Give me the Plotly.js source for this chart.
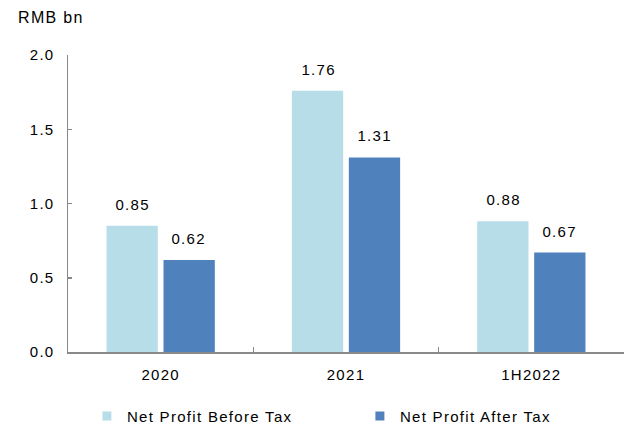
<!DOCTYPE html>
<html>
<head>
<meta charset="utf-8">
<script src="https://cdn.plot.ly/plotly-3.0.1.min.js"></script>
<style>
  html, body { margin: 0; padding: 0; background: #fff; }
  #chart { width: 625px; height: 427px; }
  #chart svg text { letter-spacing: 1.3px; }
</style>
</head>
<body>
<div id="chart"></div>
<script>
// Profit figures, RMB billions
const periods = ['2020', '2021', '1H2022'];
const beforeTax = [0.85, 1.76, 0.88];
const afterTax = [0.62, 1.31, 0.67];
const seriesNames = ['Net Profit Before Tax', 'Net Profit After Tax'];
const yTicks = [0, 0.5, 1.0, 1.5, 2.0];

const lightBlue = '#B7DEE8';
const darkBlue = '#4F81BD';
const axisGray = '#898989';
const font = 'Liberation Sans, Arial, sans-serif';

const bars = [
  { type: 'bar', name: seriesNames[0], x: periods, y: beforeTax,
    marker: { color: lightBlue }, showlegend: false },
  { type: 'bar', name: seriesNames[1], x: periods, y: afterTax,
    marker: { color: darkBlue }, showlegend: false }
];

// Legend entries drawn as small square markers (kept below the visible range)
const legendEntries = seriesNames.map((n, i) => ({
  type: 'scatter', mode: 'markers', name: n, x: [periods[0]], y: [-10],
  marker: { symbol: 'square', size: 9, color: i === 0 ? lightBlue : darkBlue },
  hoverinfo: 'skip'
}));

// Value labels above each bar; x given as category index so
// numeric-looking period names are not read as coordinates
const labelShift = 28;
const valueLabels = [];
[beforeTax, afterTax].forEach((vals, s) => {
  vals.forEach((v, i) => {
    valueLabels.push({
      x: i, y: v, xref: 'x', yref: 'y',
      text: v.toFixed(2), showarrow: false,
      xanchor: 'center', yanchor: 'bottom',
      xshift: s === 0 ? -labelShift : labelShift, yshift: 11,
      font: { family: font, size: 15, color: '#000' }
    });
  });
});

const layout = {
  width: 625, height: 427,
  margin: { l: 68, r: 1, t: 55, b: 75, autoexpand: false },
  paper_bgcolor: '#fff', plot_bgcolor: '#fff',
  barmode: 'group', bargap: 0.385, bargroupgap: 0.1,
  font: { family: font, size: 15, color: '#000' },
  showlegend: true,
  legend: {
    orientation: 'h', x: 0.034, xanchor: 'left', y: -0.161, yanchor: 'top',
    entrywidth: 228, entrywidthmode: 'pixels', itemwidth: 30,
    font: { family: font, size: 15, color: '#000' }
  },
  xaxis: {
    type: 'category', categoryarray: periods, categoryorder: 'array',
    showline: true, linecolor: axisGray, linewidth: 1.5,
    ticks: 'inside', tickson: 'boundaries', ticklen: 5, tickcolor: axisGray,
    tickwidth: 1.5, showgrid: false, ticklabelstandoff: 8,
    tickfont: { family: font, size: 15, color: '#000' }
  },
  yaxis: {
    range: [0, 2], tickvals: yTicks, tickformat: '.1f',
    showline: true, linecolor: axisGray, linewidth: 1.5,
    ticks: 'inside', ticklen: 4, tickcolor: axisGray, tickwidth: 1.5,
    showgrid: false, zeroline: false, ticklabelstandoff: 9,
    tickfont: { family: font, size: 15, color: '#000' }
  },
  annotations: valueLabels.concat([{
    xref: 'paper', yref: 'paper', x: -0.087, y: 1.125,
    xanchor: 'left', yanchor: 'middle', showarrow: false,
    text: 'RMB bn', font: { family: font, size: 16, color: '#000' }
  }])
};

Plotly.newPlot('chart', bars.concat(legendEntries), layout, { displayModeBar: false, staticPlot: true });
</script>
</body>
</html>
